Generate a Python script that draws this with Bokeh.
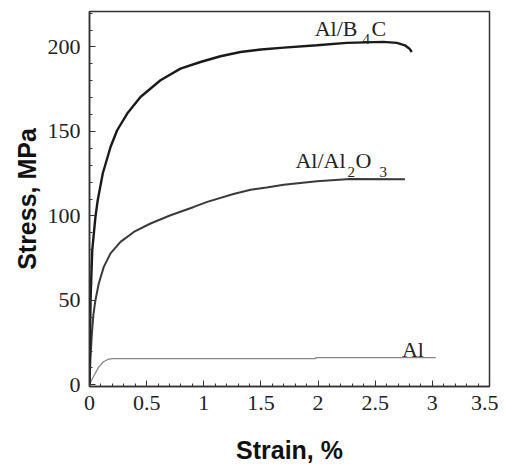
import numpy as np
from bokeh.plotting import figure
from bokeh.models import FixedTicker, Label
from bokeh.embed import file_html
from bokeh.resources import INLINE

# ---- data ----
b4c_strain = [0, 0.003, 0.009, 0.024, 0.052, 0.072, 0.116, 0.184, 0.242, 0.33, 0.446,
              0.621, 0.796, 0.971, 1.146, 1.321, 1.50, 1.70, 1.99, 2.25, 2.57, 2.69,
              2.76, 2.80, 2.82]
b4c_stress = [0, 20.5, 50, 79.7, 99.4, 109.3, 125.1, 140.8, 150.7, 160.6, 170.4,
              180.3, 187.2, 191.1, 194.5, 197.0, 198.5, 199.6, 201.0, 202.4, 203.0, 202.4,
              201.0, 199.0, 197.0]

al2o3_strain = [0, 0.008, 0.02, 0.035, 0.052, 0.081, 0.125, 0.184, 0.271, 0.388, 0.534,
                0.709, 0.913, 1.03, 1.26, 1.41, 1.55, 1.70, 1.99, 2.28, 2.76]
al2o3_stress = [0, 15, 30, 42, 50.1, 60, 69.8, 77.8, 84.6, 90.5, 95.5,
                100.4, 105.3, 108.3, 113.0, 115.5, 116.8, 118.5, 120.5, 121.8, 121.7]

al_strain = [0, 0.02, 0.04, 0.08, 0.12, 0.16, 0.2, 1.0, 1.98, 1.98, 3.03]
al_stress = [0, 3.0, 5.5, 10.5, 13.5, 15.0, 15.5, 15.5, 15.5, 16.1, 16.1]

x_ticks = [0, 0.5, 1, 1.5, 2, 2.5, 3, 3.5]
x_tick_labels = ["0", "0.5", "1", "1.5", "2", "2.5", "3", "3.5"]
y_ticks = [0, 50, 100, 150, 200]
y_tick_labels = ["0", "50", "100", "150", "200"]

SERIF = "Liberation Serif"
SANS = "Liberation Sans"

p = figure(width=498, height=466, x_range=(0, 3.5), y_range=(-1, 221),
           output_backend="svg", toolbar_location=None,
           min_border_left=89, min_border_right=9, min_border_top=11, min_border_bottom=80)
p.background_fill_color = "white"
p.border_fill_color = "white"
p.outline_line_color = "#333333"
p.outline_line_width = 1.5
p.xgrid.visible = False
p.ygrid.visible = False

p.xaxis.ticker = FixedTicker(ticks=x_ticks, minor_ticks=list(np.round(np.arange(0, 3.51, 0.1), 2)))
p.xaxis.major_label_overrides = {t: l for t, l in zip(x_ticks, x_tick_labels)}
p.yaxis.ticker = FixedTicker(ticks=y_ticks, minor_ticks=list(range(0, 221, 10)))
p.yaxis.major_label_overrides = {t: l for t, l in zip(y_ticks, y_tick_labels)}

for ax in (p.xaxis, p.yaxis):
    ax.axis_line_color = "#333333"
    ax.axis_line_width = 1.5
    ax.major_tick_in = 6
    ax.major_tick_out = 0
    ax.minor_tick_in = 3
    ax.minor_tick_out = 0
    ax.major_tick_line_color = "#333333"
    ax.minor_tick_line_color = "#333333"
    ax.major_label_text_font = SERIF
    ax.major_label_text_font_size = "22px"
    ax.major_label_text_color = "#222222"
    ax.major_label_standoff = 9
    ax.axis_label_text_font = SANS
    ax.axis_label_text_font_style = "bold"
    ax.axis_label_text_font_size = "25px"
    ax.axis_label_text_color = "#111111"

p.xaxis.axis_label = "Strain, %"
p.yaxis.axis_label = "Stress, MPa"
p.xaxis.axis_label_standoff = 23
p.yaxis.axis_label_standoff = 4

p.line(al_strain, al_stress, line_color="#888888", line_width=1.3)
p.line(al2o3_strain, al2o3_stress, line_color="#3a3a3a", line_width=2.0)
p.line(b4c_strain, b4c_stress, line_color="#1a1a1a", line_width=2.4)

MAIN = "22px"
SUB = "15px"

def lab(x, y, text, size, align="left", xoff=0):
    p.add_layout(Label(x=x, y=y, text=text, x_offset=xoff, text_font=SERIF,
                       text_font_size=size, text_color="#222222", text_align=align,
                       text_baseline="alphabetic"))

# Al/B4C
lab(2.345, 210.9, "Al/B", MAIN, "right")
lab(2.345, 205.0, "4", SUB, "left", 5)
lab(2.345, 210.9, "C", MAIN, "left", 14)
# Al/Al2O3
lab(2.24, 132.5, "Al/Al", MAIN, "right")
lab(2.24, 125.9, "2", SUB, "left", 2)
lab(2.24, 132.5, "O", MAIN, "left", 10)
lab(2.24, 125.9, "3", SUB, "left", 34)
# Al
lab(2.83, 20.9, "Al", MAIN, "center")

open("out.html", "w").write(file_html(p, INLINE))
